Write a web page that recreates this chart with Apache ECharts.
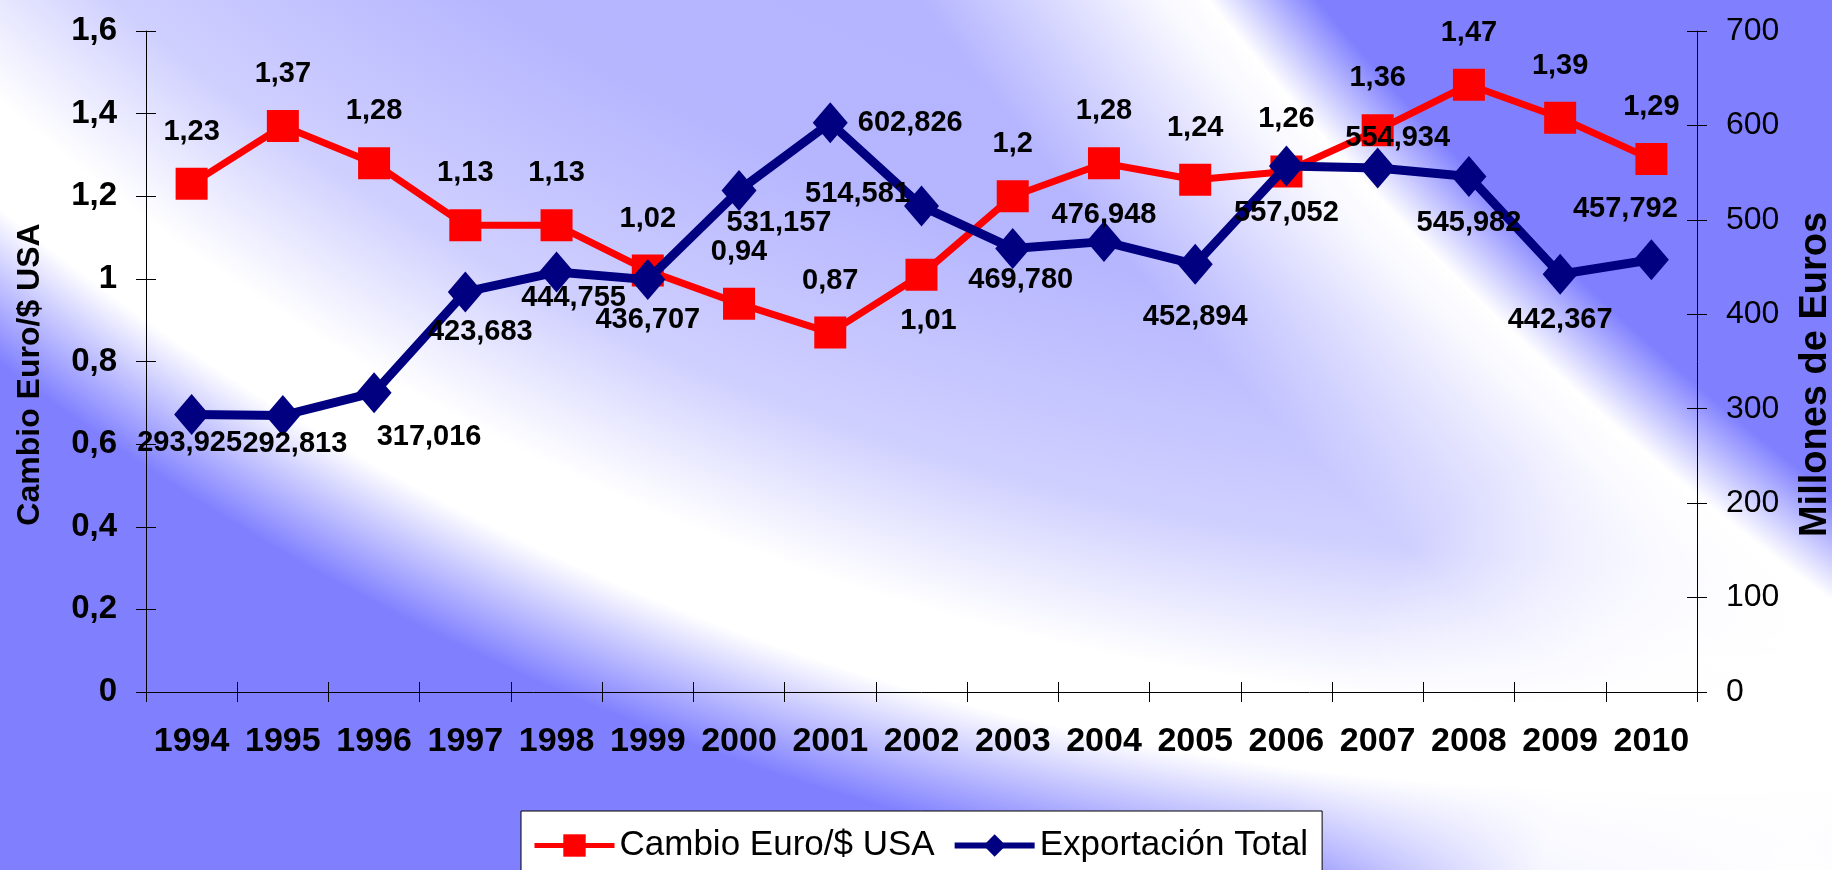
<!DOCTYPE html>
<html>
<head>
<meta charset="utf-8">
<script src="https://cdn.jsdelivr.net/npm/echarts@6/dist/echarts.min.js"></script>
<style>
html,body{margin:0;padding:0;background:#8080ff;overflow:hidden;}
#chart{width:1832px;height:870px;}
</style>
</head>
<body>
<div id="chart"></div>
<script>
// ---- data ----
var years = ['1994','1995','1996','1997','1998','1999','2000','2001','2002','2003','2004','2005','2006','2007','2008','2009','2010'];
var cambio = [1.23,1.37,1.28,1.13,1.13,1.02,0.94,0.87,1.01,1.2,1.28,1.24,1.26,1.36,1.47,1.39,1.29];
var exportacion = [293.925,292.813,317.016,423.683,444.755,436.707,531.157,602.826,514.581,469.780,476.948,452.894,557.052,554.934,545.982,442.367,457.792];
var leftTicks = {min:0, max:1.6, interval:0.2};
var rightTicks = {min:0, max:700, interval:100};

// ---- label placement (style only) ----
var cambioOffsets = [[0,-52],[0,-52],[0,-52],[0,-52],[0,-52],[0,-52],[0,-52],[0,-52],[7,46],[0,-52],[0,-52],[0,-52],[0,-52],[0,-52],[0,-52],[0,-52],[0,-52]];
var exportOffsets = [[-2,29],[12,28],[55,44],[15,40],[17,26],[0,40],[40,33],[80,0],[-64,-12],[8,32],[0,-27],[0,53],[0,47],[20,-30],[0,47],[0,46],[-26,-51]];

var FONT = '"Liberation Sans", Arial, sans-serif';

function commaNum(v){ return String(v).replace('.', ','); }

var labelBase = {show:true, position:'inside', color:'#000', fontSize:29, fontWeight:'bold', fontFamily:FONT};

var cambioData = cambio.map(function(v,i){
  return {value:v, label:Object.assign({}, labelBase, {offset:cambioOffsets[i], formatter:function(p){return commaNum(p.value);}})};
});
var exportData = exportacion.map(function(v,i){
  return {value:v, label:Object.assign({}, labelBase, {offset:exportOffsets[i], formatter:function(p){return p.value.toFixed(3).replace('.', ',');}})};
});

var chart = echarts.init(document.getElementById('chart'), null, {renderer:'canvas'});

var axisLineStyle = {color:'#000', width:1};

var option = {
  backgroundColor:'#8080ff',
  animation:false,
  graphic:[{
    type:'circle', z:-100, silent:true,
    shape:{cx:1615, cy:-1750, r:2700},
    style:{
      fill:{
        type:'radial', x:0.5, y:0.5, r:0.5,
        colorStops:[
          {offset:0, color:'#a8a8ff'},
          {offset:0.77, color:'#b6b6ff'},
          {offset:0.855, color:'#d0d0ff'},
          {offset:0.91, color:'#ffffff'},
          {offset:0.94, color:'#ffffff'},
          {offset:0.985, color:'#8080ff'},
          {offset:1, color:'#8080ff'}
        ]
      }
    }
  },{
    type:'circle', z:-99.5, silent:true,
    shape:{cx:1800, cy:900, r:520},
    style:{
      fill:{
        type:'radial', x:0.5, y:0.5, r:0.5,
        colorStops:[
          {offset:0, color:'rgba(255,255,255,1)'},
          {offset:0.5, color:'rgba(255,255,255,0.9)'},
          {offset:1, color:'rgba(255,255,255,0)'}
        ]
      }
    }
  },{
    type:'circle', z:-99, silent:true,
    shape:{cx:3813, cy:-2082, r:3600},
    style:{
      fill:{
        type:'radial', x:0.5, y:0.5, r:0.5,
        colorStops:[
          {offset:0, color:'#8080ff'},
          {offset:0.9028, color:'#8080ff'},
          {offset:0.9264, color:'rgba(255,255,255,1)'},
          {offset:0.9375, color:'rgba(255,255,255,0.9)'},
          {offset:0.99, color:'rgba(255,255,255,0)'},
          {offset:1, color:'rgba(255,255,255,0)'}
        ]
      }
    }
  }],
  grid:{left:146, right:135, top:31, bottom:178, containLabel:false, outerBoundsMode:'none'},
  legend:{
    left:521, top:811,
    orient:'horizontal',
    backgroundColor:'#ffffff',
    borderColor:'#000', borderWidth:1, borderRadius:0,
    padding:[17,14,40,11],
    itemWidth:80, itemHeight:28, itemGap:17,
    textStyle:{fontSize:35, fontFamily:FONT, color:'#000'},
    data:[
      {name:'Cambio Euro/$ USA', lineStyle:{width:5, color:'#ff0000'}},
      {name:'Exportación Total', lineStyle:{width:6, color:'#000080'}}
    ]
  },
  xAxis:[{
    type:'category', data:years, position:'bottom',
    axisLine:{show:true, lineStyle:axisLineStyle},
    axisTick:{show:true, length:10, lineStyle:axisLineStyle},
    axisLabel:{margin:33, color:'#000', fontSize:34, fontWeight:'bold', fontFamily:FONT, interval:0},
    splitLine:{show:false}
  },{
    type:'category', data:years, position:'bottom',
    axisLine:{show:false},
    axisTick:{show:true, inside:true, length:10, lineStyle:axisLineStyle},
    axisLabel:{show:false},
    splitLine:{show:false}
  }],
  yAxis:[{
    type:'value', position:'left',
    min:leftTicks.min, max:leftTicks.max, interval:leftTicks.interval,
    name:'Cambio Euro/$ USA', nameLocation:'middle', nameGap:100, nameRotate:90,
    nameTextStyle:{fontSize:32, fontWeight:'bold', fontFamily:FONT, color:'#000', padding:[0,26,0,0]},
    axisLine:{show:true, lineStyle:axisLineStyle},
    axisTick:{show:true, length:10, lineStyle:axisLineStyle},
    axisLabel:{margin:29, color:'#000', fontSize:33, fontWeight:'bold', fontFamily:FONT, formatter:function(v){return commaNum(Math.round(v*10)/10);}},
    splitLine:{show:false}
  },{
    type:'value', position:'right',
    min:rightTicks.min, max:rightTicks.max, interval:rightTicks.interval,
    name:'Millones de Euros', nameLocation:'middle', nameGap:100, nameRotate:90,
    nameTextStyle:{fontSize:38, fontWeight:'bold', fontFamily:FONT, color:'#000', padding:[0,26,0,0]},
    axisLine:{show:true, lineStyle:axisLineStyle},
    axisTick:{show:true, length:10, lineStyle:axisLineStyle},
    axisLabel:{margin:29, color:'#000', fontSize:32, fontFamily:FONT},
    splitLine:{show:false}
  },{
    type:'value', position:'left',
    min:leftTicks.min, max:leftTicks.max, interval:leftTicks.interval,
    axisLine:{show:false},
    axisTick:{show:true, inside:true, length:10, lineStyle:axisLineStyle},
    axisLabel:{show:false}, splitLine:{show:false}
  },{
    type:'value', position:'right',
    min:rightTicks.min, max:rightTicks.max, interval:rightTicks.interval,
    axisLine:{show:false},
    axisTick:{show:true, inside:true, length:10, lineStyle:axisLineStyle},
    axisLabel:{show:false}, splitLine:{show:false}
  }],
  series:[{
    name:'Cambio Euro/$ USA',
    type:'line',
    xAxisIndex:0, yAxisIndex:0,
    data:cambioData,
    symbol:'rect', symbolSize:32,
    lineStyle:{color:'#ff0000', width:7},
    itemStyle:{color:'#ff0000'},
    z:3
  },{
    name:'Exportación Total',
    type:'line',
    xAxisIndex:0, yAxisIndex:1,
    data:exportData,
    symbol:'diamond', symbolSize:[35,41],
    lineStyle:{color:'#000080', width:9},
    itemStyle:{color:'#000080'},
    z:4
  }]
};
chart.setOption(option);
</script>
</body>
</html>
